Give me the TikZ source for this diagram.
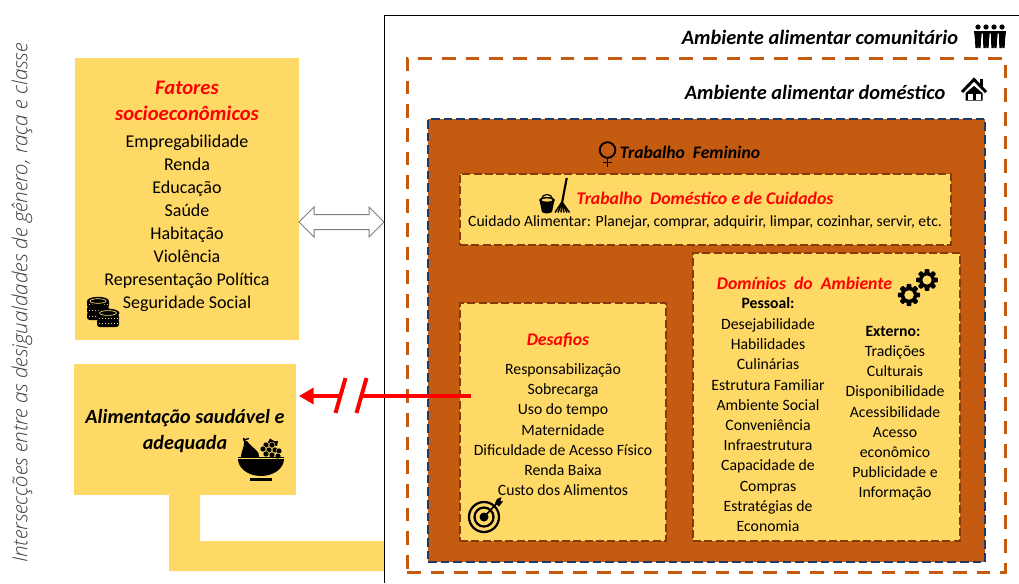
\documentclass[tikz,border=0pt]{standalone}
\usepackage{fontspec}
\setmainfont{Carlito}
\newfontfamily\sidefont{Open Sans Light}[ItalicFont={Open Sans Light Italic}]
\usetikzlibrary{calc,arrows.meta}
\definecolor{ylw}{HTML}{FFD966}
\definecolor{brn}{HTML}{C55A11}
\definecolor{dbrn}{HTML}{843C0C}
\definecolor{nvy}{HTML}{203864}
\definecolor{redd}{HTML}{FF0000}
\newcommand{\fs}[2]{\fontsize{#1}{#2}\selectfont}
\tikzset{
 x=.75pt,y=-.75pt,
 sz/.style 2 args={minimum width=#1*.75pt,minimum height=#2*.75pt},
 lbl/.style={inner sep=0,outer sep=0,align=center,text=black},
 box/.style={fill=ylw,draw=none,inner sep=0,outer sep=0},
 dbox/.style={fill=ylw,draw=dbrn,line width=1.5pt,dash pattern=on 6pt off 2.5pt,inner sep=0,outer sep=0},
 redtitle/.style={lbl,text=redd,font=\fs{13.3}{15}\bfseries\itshape},
 blacktitle/.style={lbl,font=\fs{15.3}{20}\bfseries\itshape},
 body/.style={lbl,font=\fs{11.8}{15.15}},
 bodyb/.style={lbl,font=\fs{13.5}{17.25}},
 gearp/.pic={\fill[black] (0,0) circle (8);
   \foreach \a in {0,45,...,315}{\fill[black,rotate=\a,rounded corners=.6pt] (-2.3,-10.8)rectangle(2.3,0);}
   \fill[ylw] (0,0) circle (4.6);},
}
\begin{document}
\begin{tikzpicture}
\useasboundingbox (0,0) rectangle (1019,583);
\fill[white] (0,0) rectangle (1019,583);
% community frame
\coordinate (cTL) at (384,15.5);
\coordinate (cTR) at (1019,15.5);
\coordinate (cBL) at (384,583);
% L shaped band
\node[box,sz={222}{131}] (alim) at (185,429.5) {};
\coordinate (bandend) at (384,556);
\fill[ylw] (169,495) -- (169,571) -- (bandend |- 0,571) -- (bandend |- 0,541) -- (200,541) -- (200,495) -- cycle;
\draw[black,line width=.75pt] (cBL) -- (cTL) -- (cTR);
% outer dashed
\node[draw=brn,line width=2.25pt,dash pattern=on 10.3pt off 7.5pt,sz={598}{514},inner sep=0,outer sep=0] (dom) at (706,315) {};
% brown box
\node[fill=brn,draw=nvy,line width=1.5pt,dash pattern=on 6.5pt off 3pt,sz={557}{443},inner sep=0,outer sep=0] (fem) at (706.5,340.5) {};
% inner boxes
\node[dbox,sz={491}{71}] (trab) at (705.5,209.5) {};
\node[dbox,sz={206}{238}] (desa) at (563,422) {};
\node[dbox,sz={267}{288}] (domi) at (826.5,397) {};
% left box
\node[box,sz={224}{282}] (fat) at (187,199) {};
% side text
\node[lbl,rotate=90,text=black!75,font=\sidefont\fs{15.5}{16}\itshape] (side) at (22,303) {Intersecções entre as desigualdades de gênero, raça e classe};
% Fatores
\node[lbl,text=redd,font=\fs{15.5}{19.5}\bfseries\itshape] (fattitle) at (187,101) {Fatores\\socioeconômicos};
\node[bodyb,anchor=north] (fatbody) at (187,135) {Empregabilidade\\Renda\\Educação\\Saúde\\Habitação\\Violência\\Representação Política\\Seguridade Social};
% Alimentacao
\node[lbl,font=\fs{15.1}{19.5}\bfseries\itshape] (alimtxt) at (185,431) {Alimentação saudável e\\adequada};
% headings
\node[blacktitle] (comu) at (820,37) {Ambiente alimentar comunitário};
\node[blacktitle] (dome) at (815,92) {Ambiente alimentar doméstico};
\node[lbl,font=\fs{13.2}{15}\bfseries\itshape] (femtxt) at (690,152) {Trabalho\ \ Feminino};
\node[redtitle] (trabt) at (705,198) {Trabalho\ \ Doméstico e de Cuidados};
\node[lbl,font=\fs{11.75}{15}] (trabb) at (705,222) {Cuidado Alimentar: Planejar, comprar, adquirir, limpar, cozinhar, servir, etc.};
\node[redtitle] (desat) at (558,340) {Desafios};
\node[body,anchor=north] (desab) at (563,363.5) {Responsabilização\\Sobrecarga\\Uso do tempo\\Maternidade\\Dificuldade de Acesso Físico\\Renda Baixa\\Custo dos Alimentos};
\node[redtitle] (domit) at (804.5,283) {Domínios\ \ do\ \ Ambiente};
\node[lbl,font=\fs{11.8}{15.15}\bfseries] (pess) at (768,303) {Pessoal:};
\node[body,anchor=north] (pessb) at (768,318.5) {Desejabilidade\\Habilidades\\Culinárias\\Estrutura Familiar\\Ambiente Social\\Conveniência\\Infraestrutura\\Capacidade de\\Compras\\Estratégias de\\Economia};
\node[lbl,font=\fs{11.8}{15.15}\bfseries] (exte) at (893,331) {Externo:};
\node[body,anchor=north] (exteb) at (895,345.5) {Tradições\\Culturais\\Disponibilidade\\Acessibilidade\\Acesso\\econômico\\Publicidade e\\Informação};
% white double arrow
\coordinate (daL) at (fat.east |- 0,222);
\coordinate (daR) at (cBL |- 0,222);
\draw[black!50,fill=white,line width=.75pt,line join=miter] (daL) -- ++(15,-15) -- ++(0,7.5) -- ($(daR)+(-15,-7.5)$) -- ++(0,-7.5) -- (daR) -- ++(-15,15) -- ++(0,-7.5) -- ($(daL)+(15,7.5)$) -- ++(0,7.5) -- cycle;
% red arrow
\coordinate (rS) at (desa.west |- 0,396);
\coordinate (rE) at (alim.east |- 0,396);
\coordinate (t1) at (340.5,396);
\coordinate (t2) at (361.5,396);
\draw[redd,line width=3pt] ($(rS)+(11,0)$) -- (t2);
\draw[redd,line width=3pt,-{Triangle[length=11pt,width=12pt]}] (t1) -- ($(rE)+(3,0)$);
\draw[redd,line width=3pt] (345.5,378) -- (335.5,413);
\draw[redd,line width=3pt] (366.5,378) -- (356.5,413);
% people icon
\foreach \px in {978,986,994,1002}{
  \fill[black] (\px,27) circle (2.6);
  \fill[black] (\px-4,31) -- (\px+4,31) -- (\px+3,40) -- (\px+2.6,48) -- (\px+.3,48) -- (\px,42) -- (\px-.3,48) -- (\px-2.6,48) -- (\px-3,40) -- cycle;
}
\draw[white,line width=.35pt] (982,34) -- (982,48) (990,34) -- (990,48) (998,34) -- (998,48);
% house icon
\draw[black,line width=2.2pt,line join=miter] (962,92) -- (974,79.5) -- (986,92);
\fill[black] (974,86) -- (982.5,93) -- (982.5,100.5) -- (965.5,100.5) -- (965.5,93) -- cycle;
\fill[black] (979.5,79) rectangle (982.5,86);
\fill[white] (967.5,94) rectangle (972.5,100);
\fill[white] (975.5,94) rectangle (980.5,100);
% female icon
\draw[black,line width=1.4pt] (607.5,150) circle (7.8);
\draw[black,line width=1.4pt] (607.5,158) -- (607.5,167);
\draw[black,line width=1.4pt] (603,162.5) -- (612,162.5);
% bucket and broom
\fill[black] (539.5,200) -- (554.5,200) -- (552,212) .. controls (548,214) and (545,214) .. (542,212) -- cycle;
\fill[black] (547,200) ellipse (7.8 and 3);
\fill[ylw] (547,200) ellipse (5.5 and 1.6);
\draw[black,line width=.9pt] (541.5,199) .. controls (542,193) and (552,193) .. (552.5,199);
\draw[black,line width=1.6pt] (566.7,178) -- (562,203);
\foreach \bx in {555,558,561,564,567,569.5}{\draw[black,line width=1.1pt] (562,202) -- (\bx,212.5);}
% gears
\pic at (927,280) {gearp};
\pic[scale=1.03] at (909,295) {gearp};
% target
\draw[black,line width=1.7pt] (484,517) circle (15);
\draw[black,line width=1.7pt] (484,517) circle (9.5);
\fill[black] (484,517) circle (4.5);
\draw[black,line width=1.2pt] (484,517) -- (497,503);
\fill[black] (495,503) -- (497,499) -- (501.5,497) -- (500.5,501) -- (503,501.5) -- (499,506.5) -- cycle;
% coins
\foreach \cx/\cy in {98/303,98/309,98/315,108/322,108/317}{
  \fill[black,rounded corners=2pt] (\cx-11,\cy-3) rectangle (\cx+11,\cy+5);
  \draw[ylw,line width=.55pt,dash pattern=on 1pt off 1.2pt] (\cx-9,\cy+1.8) -- (\cx+9,\cy+1.8);
}
\fill[black] (98,301) ellipse (11 and 4.2);
\draw[ylw,line width=.5pt] (98,301) ellipse (8 and 2.3);
\fill[black] (108,313) ellipse (11.4 and 4.4);
\draw[ylw,line width=.5pt] (108,313) ellipse (8.4 and 2.4);
% fruit bowl
\fill[black] (238,459) -- (284,459) .. controls (284,468) and (274,476) .. (261,476) .. controls (248,476) and (238,468) .. (238,459) -- cycle;
\fill[black] (250,478) rectangle (272,481);
\fill[black] (241,457) .. controls (241,450) and (245,447) .. (244,441) -- (247,441) .. controls (251,447) and (261,452) .. (259,457) -- cycle;
\draw[black,line width=1.1pt] (245.5,442) -- (243.5,438);
\draw[black,line width=1pt] (243,440) -- (249,438.5);
\fill[black] (267,444) -- (270,438.5) -- (274,441) -- (278,441) -- (277,446) -- cycle;
\foreach \gx/\gy in {266/445,272/445,263/449,269/450,275/450,279/451,266/454,272/455,278/456}{
  \fill[black,draw=ylw,line width=.35pt] (\gx,\gy) circle (3);
}
\draw[black,line width=1.1pt] (238,457.7) -- (284,457.7);
\end{tikzpicture}
\end{document}
